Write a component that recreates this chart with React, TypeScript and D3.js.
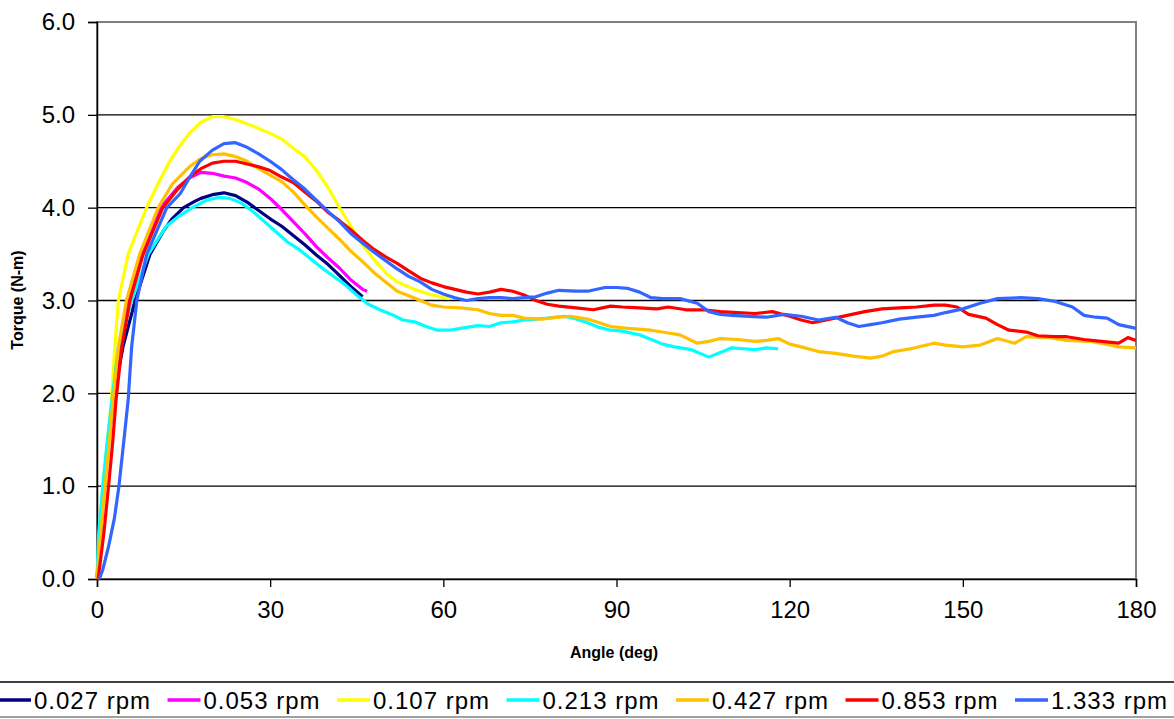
import React, { useEffect, useRef } from 'react';
import * as d3 from 'd3';

type Pt = [number, number];

const seriesNames = ['0.027 rpm', '0.053 rpm', '0.107 rpm', '0.213 rpm', '0.427 rpm', '0.853 rpm', '1.333 rpm'];
const seriesColors = ['#000080', '#FF00FF', '#FFFF00', '#00FFFF', '#FFC000', '#FF0000', '#3366FF'];

const xTicks = [0, 30, 60, 90, 120, 150, 180];
const yTicks = [0, 1, 2, 3, 4, 5, 6];

// angle (deg), torque (N-m)
const rpm0027: Pt[] = [[0, 0], [0.5, 0.4], [1.2, 1.0], [2, 1.5], [2.8, 1.93], [4.5, 2.5], [6.6, 3.0], [9.2, 3.5], [11.5, 3.75], [13, 3.88], [15, 4.0], [17, 4.07], [18, 4.1], [20, 4.14], [22, 4.16], [24, 4.13], [26, 4.06], [28, 3.97], [30, 3.88], [32, 3.8], [34, 3.7], [36, 3.6], [38, 3.49], [40, 3.39], [42, 3.27], [44, 3.15], [46, 3.04]];
const rpm0053: Pt[] = [[0, 0], [0.5, 0.5], [1.2, 1.0], [2, 1.5], [2.8, 1.93], [3.8, 2.5], [5.2, 3.0], [7.5, 3.5], [11, 4.0], [14, 4.22], [16, 4.32], [18, 4.38], [20, 4.37], [22, 4.34], [24, 4.32], [26, 4.27], [28, 4.2], [30, 4.1], [32, 3.98], [34, 3.85], [36, 3.72], [38, 3.58], [40, 3.46], [42, 3.35], [44, 3.22], [46, 3.12], [46.8, 3.1]];
const rpm0107: Pt[] = [[0, 0], [0.5, 0.5], [1, 1.0], [1.8, 1.46], [2.5, 1.93], [3.1, 2.5], [3.7, 3.0], [5.4, 3.5], [8.6, 4.0], [10.5, 4.25], [12.6, 4.5], [14.4, 4.67], [16, 4.8], [18, 4.92], [20, 4.98], [22, 4.98], [24, 4.95], [27, 4.88], [30, 4.8], [32, 4.74], [34, 4.64], [36, 4.55], [38, 4.4], [40, 4.22], [42, 4.0], [44, 3.8], [46, 3.6], [48, 3.44], [50, 3.3], [52, 3.2], [55, 3.12], [58, 3.06], [61, 3.02]];
const rpm0213: Pt[] = [[0, 0], [0.3, 0.5], [1, 1.0], [1.8, 1.5], [2.6, 1.93], [3.7, 2.5], [6, 3.0], [8.9, 3.5], [12, 3.8], [14, 3.9], [16.5, 4.0], [19, 4.08], [21, 4.11], [23, 4.1], [25, 4.05], [27, 3.96], [29, 3.85], [31, 3.74], [33, 3.63], [35, 3.55], [37, 3.45], [39, 3.35], [41, 3.26], [43, 3.17], [45, 3.06], [47, 2.96], [49, 2.9], [51, 2.85], [53, 2.79], [55, 2.77], [57, 2.72], [59, 2.68], [61, 2.68], [63, 2.7], [66, 2.73], [68, 2.72], [70, 2.76], [72, 2.77], [74, 2.79], [76, 2.8], [78, 2.81], [81, 2.83], [83, 2.8], [85, 2.76], [87, 2.71], [89, 2.68], [91, 2.67], [94, 2.63], [96, 2.58], [98, 2.53], [100, 2.5], [103, 2.47], [106, 2.39], [108, 2.44], [110, 2.49], [112, 2.48], [114, 2.47], [116, 2.49], [118, 2.48]];
const rpm0427: Pt[] = [[0, 0], [0.5, 0.4], [1.4, 1.0], [2.1, 1.46], [2.8, 1.93], [3.7, 2.5], [5.1, 3.0], [7.4, 3.5], [10.6, 4.0], [13, 4.25], [16, 4.44], [18, 4.53], [20, 4.57], [22, 4.58], [24, 4.55], [26, 4.5], [28, 4.42], [30, 4.35], [32, 4.28], [34, 4.17], [36, 4.03], [38, 3.9], [40, 3.78], [42, 3.66], [44, 3.53], [46, 3.42], [48, 3.3], [50, 3.2], [52, 3.1], [54, 3.05], [56, 3.0], [58, 2.95], [60, 2.93], [63, 2.92], [66, 2.9], [68, 2.86], [70, 2.84], [72, 2.84], [74, 2.81], [77, 2.8], [80, 2.82], [82, 2.83], [85, 2.8], [87, 2.76], [89, 2.72], [92, 2.7], [96, 2.68], [99, 2.65], [101, 2.63], [104, 2.54], [106, 2.56], [108, 2.59], [111, 2.58], [114, 2.56], [116, 2.57], [118, 2.59], [120, 2.53], [122, 2.5], [125, 2.45], [128, 2.43], [131, 2.4], [134, 2.38], [136, 2.4], [138, 2.45], [141, 2.48], [145, 2.54], [147, 2.52], [150, 2.5], [153, 2.52], [156, 2.59], [159, 2.54], [161, 2.61], [165, 2.6], [168, 2.57], [172, 2.56], [174, 2.54], [177, 2.5], [180, 2.49]];
const rpm0853: Pt[] = [[0, 0], [0.2, 0], [1.2, 0.5], [2, 1.0], [2.7, 1.46], [3.3, 1.93], [4.3, 2.5], [5.7, 3.0], [8, 3.5], [11.4, 4.0], [14, 4.2], [16, 4.33], [18, 4.42], [20, 4.48], [22, 4.5], [24, 4.5], [26, 4.47], [28, 4.44], [30, 4.4], [32, 4.33], [34, 4.27], [36, 4.17], [38, 4.07], [40, 3.95], [42, 3.86], [44, 3.76], [46, 3.65], [48, 3.55], [50, 3.47], [52, 3.4], [54, 3.32], [56, 3.24], [58, 3.19], [60, 3.15], [62, 3.12], [64, 3.09], [66, 3.07], [68, 3.09], [70, 3.12], [72, 3.1], [74, 3.06], [76, 3.0], [78, 2.96], [80, 2.94], [83, 2.92], [86, 2.9], [89, 2.94], [91, 2.93], [94, 2.92], [97, 2.91], [99, 2.93], [102, 2.9], [105, 2.9], [108, 2.88], [111, 2.87], [114, 2.86], [117, 2.88], [120, 2.83], [122, 2.79], [124, 2.76], [127, 2.8], [130, 2.84], [133, 2.88], [136, 2.91], [139, 2.92], [142, 2.93], [145, 2.95], [147, 2.95], [149, 2.93], [151, 2.85], [154, 2.81], [156, 2.74], [158, 2.68], [161, 2.66], [163, 2.62], [166, 2.61], [168, 2.61], [171, 2.58], [174, 2.56], [177, 2.54], [178.6, 2.6], [180, 2.57]];
const rpm1333: Pt[] = [[0.4, 0], [1, 0.1], [2, 0.35], [2.5, 0.5], [3, 0.65], [3.8, 1.0], [4.6, 1.46], [5.4, 1.93], [6, 2.5], [6.9, 3.0], [8.6, 3.5], [12.1, 4.0], [14.4, 4.15], [16, 4.32], [17.8, 4.5], [20, 4.62], [22, 4.69], [24, 4.7], [26, 4.65], [28, 4.58], [30, 4.5], [32, 4.41], [34, 4.3], [36, 4.2], [38, 4.08], [40, 3.96], [42, 3.85], [44, 3.72], [46, 3.62], [48, 3.52], [50, 3.43], [52, 3.34], [54, 3.26], [56, 3.2], [58, 3.12], [60, 3.07], [62, 3.03], [64, 3.0], [66, 3.02], [68, 3.03], [70, 3.03], [72, 3.02], [74, 3.03], [76, 3.04], [78, 3.08], [80, 3.11], [83, 3.1], [85, 3.1], [88, 3.14], [90, 3.14], [92, 3.13], [94, 3.09], [96, 3.03], [98, 3.02], [101, 3.02], [104, 2.97], [106, 2.88], [108, 2.85], [110, 2.84], [113, 2.83], [116, 2.82], [119, 2.85], [122, 2.83], [125, 2.79], [128, 2.82], [130, 2.76], [132, 2.72], [134, 2.74], [136, 2.76], [139, 2.8], [142, 2.82], [145, 2.84], [147, 2.87], [150, 2.91], [153, 2.97], [156, 3.02], [160, 3.03], [163, 3.02], [166, 2.99], [169, 2.93], [171, 2.84], [173, 2.82], [175, 2.81], [177, 2.74], [180, 2.7]];

const allSeries = [rpm0027, rpm0053, rpm0107, rpm0213, rpm0427, rpm0853, rpm1333];

const W = 1174, H = 719;
const margin = { left: 97, right: 38, top: 22, bottom: 140 };
const font = 'Arial, "Liberation Sans", sans-serif';

export default function App() {
  const ref = useRef<SVGSVGElement>(null);

  useEffect(() => {
    const svg = d3.select(ref.current);
    svg.selectAll('*').remove();

    const x = d3.scaleLinear().domain([0, 180]).range([margin.left, W - margin.right]);
    const y = d3.scaleLinear().domain([0, 6]).range([H - margin.bottom, margin.top]);

    svg.append('rect').attr('width', W).attr('height', H).attr('fill', '#fff');

    // plot border (gray)
    svg.append('rect')
      .attr('x', x(0)).attr('y', y(6))
      .attr('width', x(180) - x(0)).attr('height', y(0) - y(6))
      .attr('fill', 'none').attr('stroke', '#808080').attr('stroke-width', 2);

    // gridlines
    svg.append('g').selectAll('line').data(yTicks.filter(d => d > 0 && d < 6)).join('line')
      .attr('x1', x(0)).attr('x2', x(180))
      .attr('y1', d => y(d)).attr('y2', d => y(d))
      .attr('stroke', '#000').attr('stroke-width', 1.3);

    // y axis
    const yAxis = svg.append('g').attr('transform', `translate(${x(0)},0)`)
      .call(d3.axisLeft(y).tickValues(yTicks).tickFormat(d3.format('.1f')).tickSize(9).tickPadding(13));
    yAxis.select('.domain').attr('stroke', '#000').attr('stroke-width', 1.5);
    yAxis.selectAll('.tick line').attr('stroke', '#000').attr('stroke-width', 1.3);
    yAxis.selectAll('text').attr('font-family', font).attr('font-size', 24).attr('fill', '#000');

    // x axis
    const xAxis = svg.append('g').attr('transform', `translate(0,${y(0)})`)
      .call(d3.axisBottom(x).tickValues(xTicks).tickFormat(d3.format('d')).tickSize(8).tickPadding(14));
    xAxis.select('.domain').attr('stroke', '#000').attr('stroke-width', 1.5);
    xAxis.selectAll('.tick line').attr('stroke', '#000').attr('stroke-width', 1.3);
    xAxis.selectAll('text').attr('font-family', font).attr('font-size', 24).attr('fill', '#000');

    // series
    const line = d3.line<Pt>().x(d => x(d[0])).y(d => y(d[1]));
    svg.append('g').selectAll('path').data(allSeries).join('path')
      .attr('d', d => line(d))
      .attr('fill', 'none')
      .attr('stroke', (_, i) => seriesColors[i])
      .attr('stroke-width', 3.2)
      .attr('stroke-linejoin', 'round');

    // axis titles
    svg.append('text').text('Angle (deg)')
      .attr('x', 614).attr('y', 658).attr('text-anchor', 'middle')
      .attr('font-family', font).attr('font-size', 16).attr('font-weight', 'bold');
    svg.append('text').text('Torque (N-m)')
      .attr('transform', 'translate(23,300) rotate(-90)').attr('text-anchor', 'middle')
      .attr('font-family', font).attr('font-size', 16).attr('font-weight', 'bold');

    // legend
    const lg = svg.append('g');
    lg.append('line').attr('x1', 0).attr('x2', W).attr('y1', 682).attr('y2', 682)
      .attr('stroke', '#404040').attr('stroke-width', 2);
    lg.append('line').attr('x1', 0).attr('x2', W).attr('y1', 717).attr('y2', 717)
      .attr('stroke', '#a0a0a0').attr('stroke-width', 2);
    const item = lg.selectAll('g.item').data(seriesNames).join('g').attr('class', 'item')
      .attr('transform', (_, i) => `translate(${-2 + i * 169.5},700)`);
    item.append('line').attr('x1', 0).attr('x2', 33).attr('y1', 0).attr('y2', 0)
      .attr('stroke', (_, i) => seriesColors[i]).attr('stroke-width', 3.5);
    item.append('text').text(d => d)
      .attr('x', 36).attr('y', 9)
      .attr('font-family', font).attr('font-size', 24).attr('letter-spacing', 1);
  }, []);

  return <svg ref={ref} width={W} height={H} style={{ position: 'absolute', left: 0, top: 0 }} />;
}
